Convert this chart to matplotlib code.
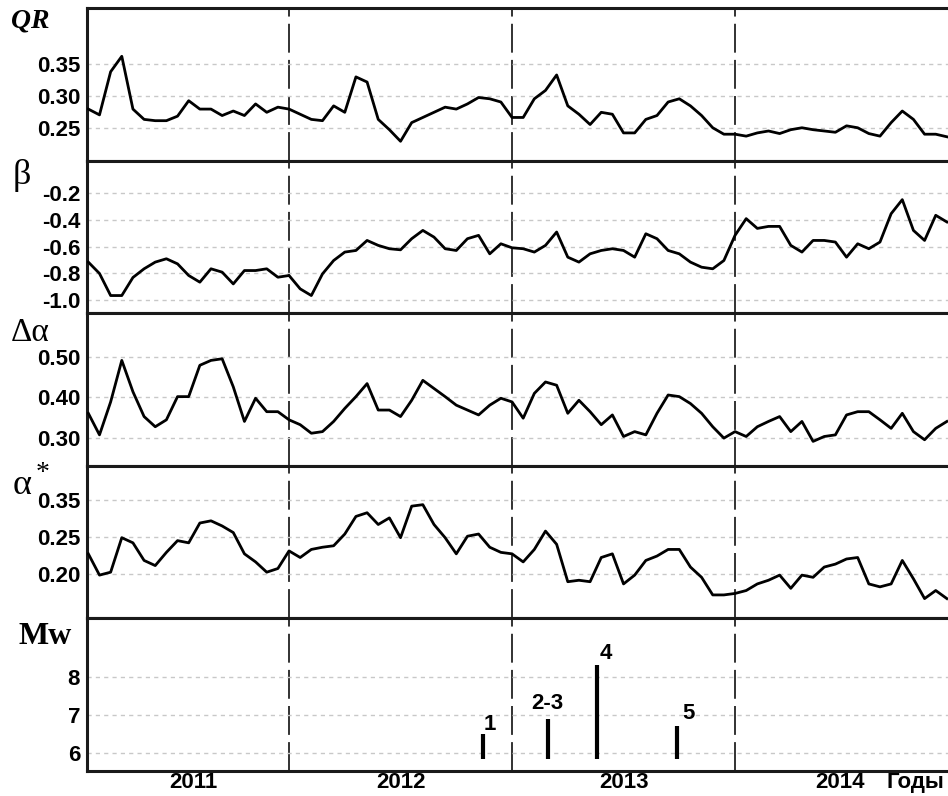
import numpy as np
import matplotlib
matplotlib.use('Agg')
from matplotlib import pyplot as plt
from matplotlib.transforms import blended_transform_factory

# time grid, fractions of a year
years = np.round(np.arange(2011.10, 2014.951, 0.05), 2)

qr = [0.280, 0.271, 0.338, 0.362, 0.280, 0.264, 0.262, 0.262, 0.269, 0.293,
      0.280, 0.280, 0.270, 0.277, 0.270, 0.288, 0.275, 0.283, 0.280, 0.272,
      0.264, 0.262, 0.285, 0.275, 0.330, 0.322, 0.264, 0.248, 0.230, 0.259,
      0.267, 0.275, 0.283, 0.280, 0.288, 0.298, 0.296, 0.291, 0.267, 0.267,
      0.296, 0.309, 0.333, 0.285, 0.272, 0.256, 0.275, 0.272, 0.243, 0.243,
      0.264, 0.270, 0.291, 0.296, 0.285, 0.270, 0.251, 0.241, 0.241, 0.238,
      0.243, 0.246, 0.242, 0.248, 0.251, 0.248, 0.246, 0.244, 0.254, 0.251,
      0.242, 0.238, 0.259, 0.277, 0.264, 0.241, 0.241, 0.237]

beta = [-0.715, -0.800, -0.965, -0.965, -0.830, -0.765, -0.715, -0.690, -0.728, -0.815,
        -0.865, -0.765, -0.790, -0.878, -0.778, -0.778, -0.765, -0.828, -0.815, -0.915,
        -0.965, -0.803, -0.703, -0.640, -0.628, -0.553, -0.590, -0.615, -0.623, -0.540,
        -0.478, -0.528, -0.615, -0.628, -0.540, -0.515, -0.653, -0.578, -0.608, -0.615,
        -0.640, -0.590, -0.490, -0.678, -0.715, -0.653, -0.628, -0.615, -0.628, -0.678,
        -0.503, -0.540, -0.628, -0.653, -0.715, -0.753, -0.765, -0.703, -0.515, -0.390,
        -0.463, -0.448, -0.448, -0.590, -0.640, -0.553, -0.553, -0.565, -0.678, -0.578,
        -0.615, -0.565, -0.353, -0.248, -0.478, -0.553, -0.365, -0.415]

d_alpha = [0.361, 0.308, 0.389, 0.491, 0.414, 0.353, 0.328, 0.345, 0.402, 0.402,
           0.479, 0.491, 0.495, 0.426, 0.341, 0.398, 0.365, 0.365, 0.345, 0.333,
           0.312, 0.316, 0.341, 0.373, 0.402, 0.434, 0.369, 0.369, 0.353, 0.393,
           0.442, 0.422, 0.402, 0.381, 0.369, 0.357, 0.381, 0.398, 0.389, 0.349,
           0.410, 0.438, 0.430, 0.361, 0.393, 0.365, 0.333, 0.357, 0.304, 0.316,
           0.308, 0.361, 0.406, 0.402, 0.385, 0.361, 0.328, 0.300, 0.316, 0.304,
           0.328, 0.341, 0.353, 0.316, 0.341, 0.292, 0.304, 0.308, 0.357, 0.365,
           0.365, 0.345, 0.324, 0.361, 0.316, 0.296, 0.324, 0.341]

alpha_star = [0.227, 0.198, 0.202, 0.249, 0.242, 0.218, 0.211, 0.229, 0.245, 0.242,
              0.269, 0.272, 0.265, 0.256, 0.227, 0.216, 0.202, 0.207, 0.231, 0.222,
              0.233, 0.236, 0.238, 0.254, 0.278, 0.283, 0.267, 0.276, 0.249, 0.292,
              0.294, 0.267, 0.249, 0.227, 0.251, 0.254, 0.236, 0.229, 0.227, 0.216,
              0.233, 0.258, 0.240, 0.189, 0.191, 0.189, 0.222, 0.227, 0.186, 0.198,
              0.218, 0.224, 0.233, 0.233, 0.209, 0.195, 0.171, 0.171, 0.173, 0.177,
              0.186, 0.191, 0.198, 0.180, 0.198, 0.195, 0.209, 0.213, 0.220, 0.222,
              0.186, 0.182, 0.186, 0.218, 0.193, 0.166, 0.177, 0.166]

# earthquakes
eq_years = [2012.87, 2013.16, 2013.38, 2013.74]
eq_mw = [6.5, 6.9, 8.3, 6.7]
eq_names = ['1', '2-3', '4', '5']

year_bounds = [2012, 2013, 2014]
year_names = ['2011', '2012', '2013', '2014']
year_pos = [2011.57, 2012.5, 2013.5, 2014.47]

W, H = 948, 796
fig = plt.figure(figsize=(W / 100, H / 100), dpi=100)
gs = fig.add_gridspec(5, 1, left=87 / W, right=1.0, top=1 - 8 / H,
                      bottom=1 - 771 / H, hspace=0)
axes = [fig.add_subplot(gs[i]) for i in range(5)]

tick_font = dict(family='Liberation Sans', weight='bold', size=16)

panels = [
    (qr, (0.200, 0.437), [0.25, 0.30, 0.35], ['0.25', '0.30', '0.35']),
    (beta, (-1.097, 0.044), [-1.0, -0.8, -0.6, -0.4, -0.2],
     ['-1.0', '-0.8', '-0.6', '-0.4', '-0.2']),
    (d_alpha, (0.232, 0.607), [0.30, 0.40, 0.50], ['0.30', '0.40', '0.50']),
    (alpha_star, (0.139, 0.347), [0.20, 0.25, 0.30], ['0.20', '0.25', '0.35']),
]

for ax in axes:
    ax.set_xlim(2011.094, 2014.955)
    for s in ['left', 'top', 'bottom']:
        ax.spines[s].set_linewidth(2.2)
        ax.spines[s].set_color('#1a1a1a')
    ax.spines['right'].set_visible(False)
    ax.tick_params(axis='both', length=0, pad=5)
    ax.set_xticks([])
    for yb in year_bounds:
        ax.axvline(yb, color='#222222', lw=1.3, ls=(0, (16, 4)), zorder=1)

for ax, (vals, lim, ticks, labels) in zip(axes, panels):
    ax.plot(years, vals, color='black', lw=2.0, zorder=3)
    ax.set_ylim(*lim)
    ax.set_yticks(ticks)
    ax.set_yticklabels(labels, fontdict=tick_font)
    ax.grid(axis='y', color='#c8c8c8', lw=1.0, ls=(0, (3, 3)))

# magnitude panel
ax = axes[4]
ax.set_ylim(5.53, 9.53)
ax.set_yticks([6, 7, 8])
ax.set_yticklabels(['6', '7', '8'], fontdict=tick_font)
ax.grid(axis='y', color='#c8c8c8', lw=1.0, ls=(0, (3, 3)))
ax.vlines(eq_years, 5.85, eq_mw, color='black', lw=3, zorder=3)
offsets = [(0.03, 0.25), (0.0, 0.4), (0.04, 0.3), (0.05, 0.35)]
for x, m, name, (dx, dy) in zip(eq_years, eq_mw, eq_names, offsets):
    ax.text(x + dx, m + dy, name, ha='center', va='center', **tick_font)

tr = blended_transform_factory(ax.transData, ax.transAxes)
for x, name in zip(year_pos, year_names):
    ax.text(x, -0.075, name, transform=tr, ha='center', va='center', **tick_font)
ax.text(2014.81, -0.075, 'Годы', transform=tr, ha='center', va='center', **tick_font)

# panel names on the left
def fig_label(px, py, s, **kw):
    fig.text(px / W, 1 - py / H, s, ha='center', va='center', **kw)

fig_label(30, 21, 'QR', family='Liberation Serif', weight='bold', style='italic', size=20)
fig_label(22, 176, 'β', family='Liberation Serif', size=26)
fig_label(30, 333, 'Δα', family='Liberation Serif', size=24)
fig_label(22, 486, 'α', family='Liberation Serif', size=26)
fig_label(43, 474, '*', family='Liberation Serif', size=20)
fig_label(45, 636, 'Mw', family='Liberation Serif', weight='bold', size=23)

fig.savefig('out.png', dpi=100)
